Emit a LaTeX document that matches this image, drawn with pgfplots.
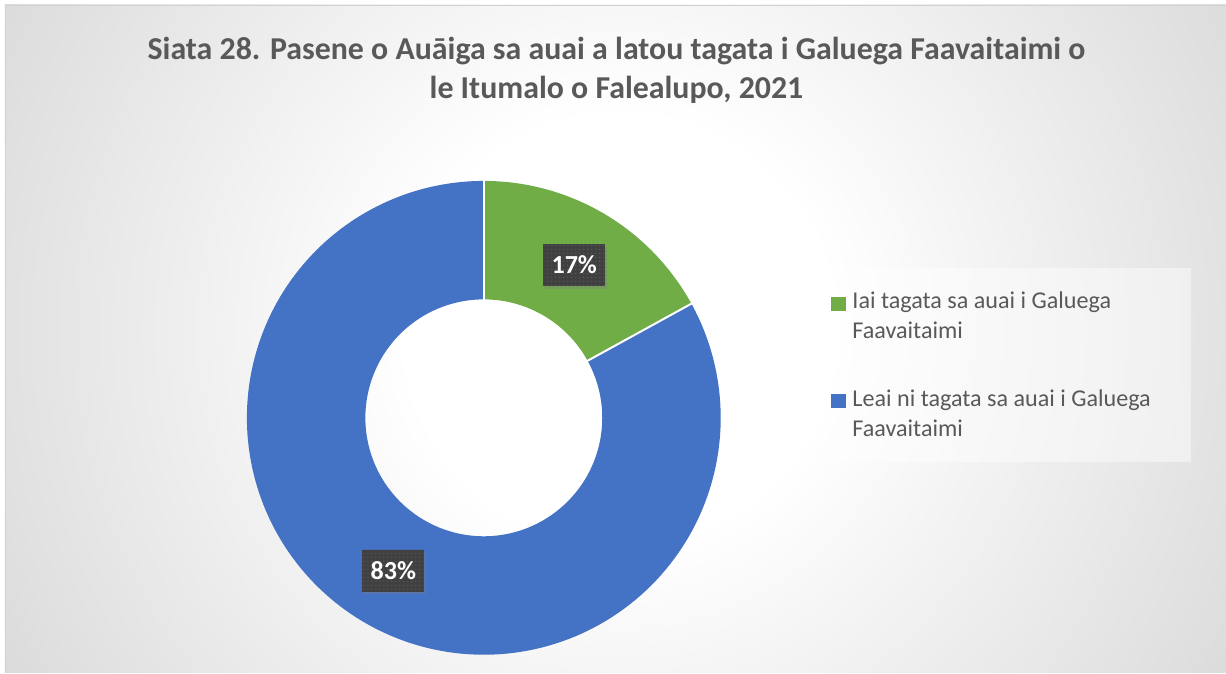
\documentclass[border=0pt]{standalone}
\usepackage{fontspec}
\setmainfont{Carlito}
\usepackage{pgfplots}
\pgfplotsset{compat=1.18}
\usepackage{pgfplotstable}
\usetikzlibrary{shadows,patterns}

\definecolor{cgreen}{HTML}{70AD47}
\definecolor{cblue}{HTML}{4472C4}
\definecolor{ctext}{HTML}{595959}
\definecolor{labelbg}{HTML}{404040}
\definecolor{bggray}{HTML}{C6C6C6}

\pgfdeclareradialshading{bgshade}{\pgfpoint{0bp}{0bp}}{color(0bp)=(white); color(7.4bp)=(white); color(34.4bp)=(bggray); color(50bp)=(bggray)}

\pgfplotstableread{
part value
Iai 17
Leai 83
}\donutdata

\begin{document}
\begin{tikzpicture}[labelbox/.style={fill=labelbg, text=white, font=\bfseries\fontsize{19.5}{20}\selectfont,
  minimum width=46.5pt, minimum height=31.5pt, inner sep=0pt,
  drop shadow={shadow xshift=1.5pt, shadow yshift=-2pt, opacity=0.35},
  postaction={pattern=dots, pattern color=labelbg!86!white}}]
\pgfplotstablegetelem{0}{value}\of\donutdata \edef\va{\pgfplotsretval}
\pgfplotstablegetelem{1}{value}\of\donutdata \edef\vb{\pgfplotsretval}
\pgfmathsetmacro\total{\va+\vb}
\pgfmathsetmacro\aA{90}
\pgfmathsetmacro\aB{90-360*(\va/\total)}
\pgfmathsetmacro\aC{\aB-360*(\vb/\total)}
\pgfmathsetmacro\mA{(\aA+\aB)/2}
\pgfmathsetmacro\mB{(\aB+\aC)/2}
\pgfmathtruncatemacro\pA{round(100*(\va/\total))}
\pgfmathtruncatemacro\pB{round(100*(\vb/\total))}
% background of the chart area
\begin{scope}[x=0.75pt,y=-0.75pt,yshift=504.75pt]
 \fill[white] (0,0) rectangle (1226,673);
 \begin{scope}
  \clip (5,5) rectangle (1226,673);
  \shade[shading=bgshade] (620,330) circle[radius=720];
 \end{scope}
 \draw[gray!35, line width=0.75pt] (5.5,673) -- (5.5,5.5) -- (1226,5.5);
\end{scope}
\begin{axis}[
  at={(0,0)}, anchor=south west,
  scale only axis, width=919.5pt, height=504.75pt,
  xmin=0, xmax=1226, ymin=0, ymax=673,
  hide axis, clip=false,
  title={Siata 28. Pasene o Auāiga sa auai a latou tagata i Galuega Faavaitaimi o\\le Itumalo o Falealupo, 2021},
  title style={font=\bfseries\fontsize{23.9}{29.3}\selectfont, text=ctext, align=center,
    at={(axis description cs:0.503,0.94)}, anchor=north},
  legend cell align=left,
  legend style={at={(axis description cs:0.64519,0.60178)}, anchor=north west,
    draw=none, fill=white, fill opacity=0.45, text opacity=1,
    inner xsep=30pt, inner ysep=18pt, row sep=36.3pt, column sep=5.25pt,
    font=\fontsize{18.1}{22.5}\selectfont, text=ctext,
    nodes={inner sep=0pt, align=left}},
]
\addplot[forget plot, draw=cgreen, line width=88.875pt, line join=round,
  domain=\aB:\aA, samples=120, variable=\t]
  ({484+177.75*cos(\t)},{255+177.75*sin(\t)});
\addplot[forget plot, draw=cblue, line width=88.875pt, line join=round,
  domain=\aC:\aB, samples=300, variable=\t]
  ({484+177.75*cos(\t)},{255+177.75*sin(\t)});
\addplot[forget plot, draw=white, line width=1.5pt, domain=118:238, samples=2, variable=\r]
  ({484+\r*cos(\aA)},{255+\r*sin(\aA)});
\addplot[forget plot, draw=white, line width=1.5pt, domain=118:238, samples=2, variable=\r]
  ({484+\r*cos(\aB)},{255+\r*sin(\aB)});
\addlegendimage{legend image code/.code={\fill[cgreen, fill opacity=1] (0pt,4.6pt) rectangle (10.5pt,14.35pt);}}
\addlegendentry{Iai tagata sa auai i Galuega\\Faavaitaimi}
\addlegendimage{legend image code/.code={\fill[cblue, fill opacity=1] (0pt,4.6pt) rectangle (10.5pt,14.35pt);}}
\addlegendentry{Leai ni tagata sa auai i Galuega\\Faavaitaimi}
\node[labelbox] at (axis cs:{484+177.75*cos(\mA)},{255+177.75*sin(\mA)}) {\pA\%};
\node[labelbox] at (axis cs:{484+177.75*cos(\mB)},{255+177.75*sin(\mB)}) {\pB\%};
\end{axis}
\end{tikzpicture}
\end{document}
